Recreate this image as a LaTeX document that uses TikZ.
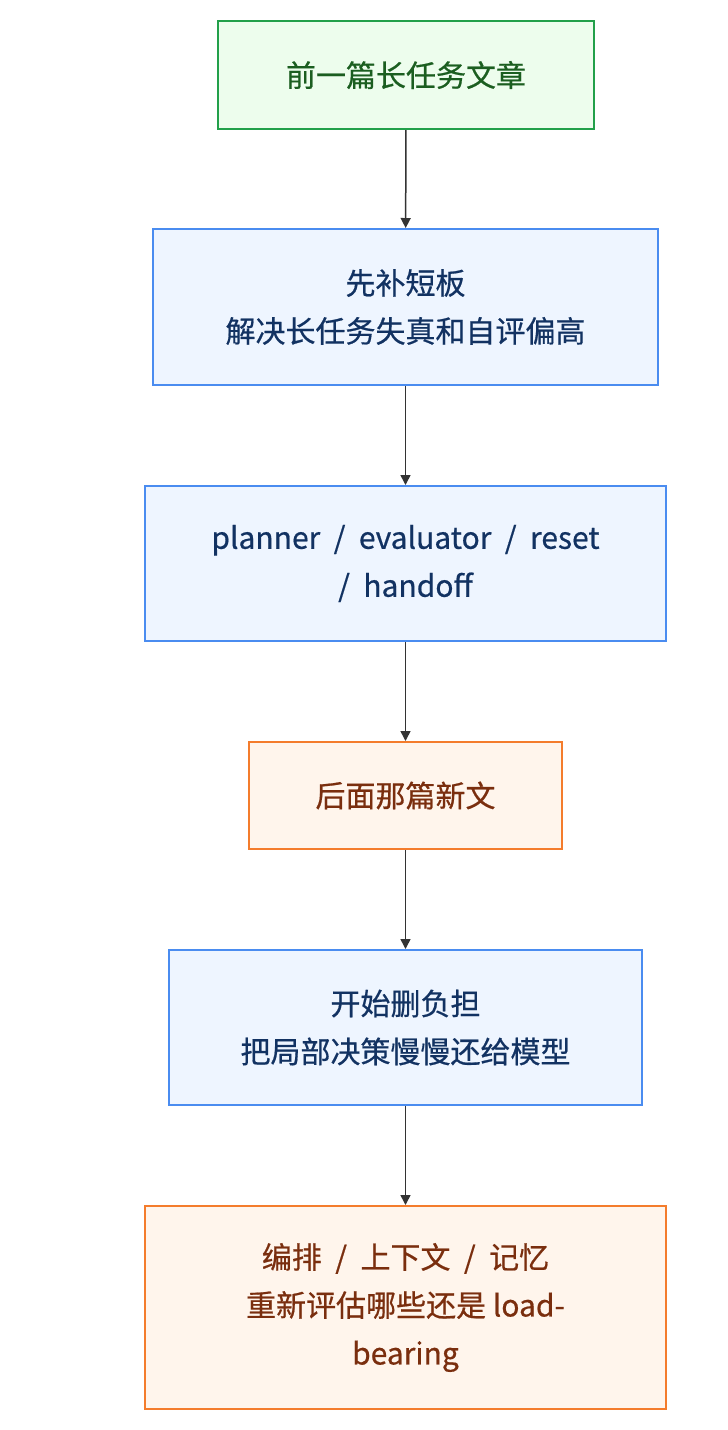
\documentclass[tikz,border=0pt]{standalone}
\usepackage{fontspec}
\setmainfont{Noto Sans CJK SC}[FakeBold=0.6]
\usetikzlibrary{arrows.meta}
\definecolor{gfill}{HTML}{EDFDED}\definecolor{gdraw}{HTML}{22A04A}\definecolor{gtext}{HTML}{1B5E20}
\definecolor{bfill}{HTML}{EEF5FF}\definecolor{bdraw}{HTML}{4A8CF0}\definecolor{btext}{HTML}{123262}
\definecolor{ofill}{HTML}{FFF5EC}\definecolor{odraw}{HTML}{F47C2C}\definecolor{otext}{HTML}{7A2E0E}
\begin{document}
\begin{tikzpicture}[x=1pt,y=-1pt,
 box/.style={draw,line width=2pt,inner sep=0pt,align=center,font=\fontsize{30}{48}\selectfont},
 g/.style={box,fill=gfill,draw=gdraw,text=gtext},
 b/.style={box,fill=bfill,draw=bdraw,text=btext},
 o/.style={box,fill=ofill,draw=odraw,text=otext},
 arr/.style={-{Triangle[length=10pt,width=10pt]},line width=1.5pt,draw=black!80}]
\useasboundingbox (0,0) rectangle (728,1430);
\node[g,minimum width=376pt,minimum height=108pt] (n1) at (406,75) {前一篇长任务文章};
\node[b,minimum width=505pt,minimum height=156pt] (n2) at (405.5,307) {先补短板\\解决长任务失真和自评偏高};
\node[b,minimum width=521pt,minimum height=155pt] (n3) at (405.5,563.5) {planner\ \ /\ \ evaluator\ \ /\ \ reset\\/\ \ handoff};
\node[o,minimum width=313pt,minimum height=107pt] (n4) at (405.5,795.5) {后面那篇新文};
\node[b,minimum width=473pt,minimum height=155pt] (n5) at (405.5,1027.5) {开始删负担\\把局部决策慢慢还给模型};
\node[o,minimum width=521pt,minimum height=203pt] (n6) at (405.5,1307.5) {编排\ \ /\ \ 上下文\ \ /\ \ 记忆\\重新评估哪些还是 load-\\bearing};
\draw[arr] (n1) -- (n2);
\draw[arr] (n2) -- (n3);
\draw[arr] (n3) -- (n4);
\draw[arr] (n4) -- (n5);
\draw[arr] (n5) -- (n6);
\end{tikzpicture}
\end{document}
